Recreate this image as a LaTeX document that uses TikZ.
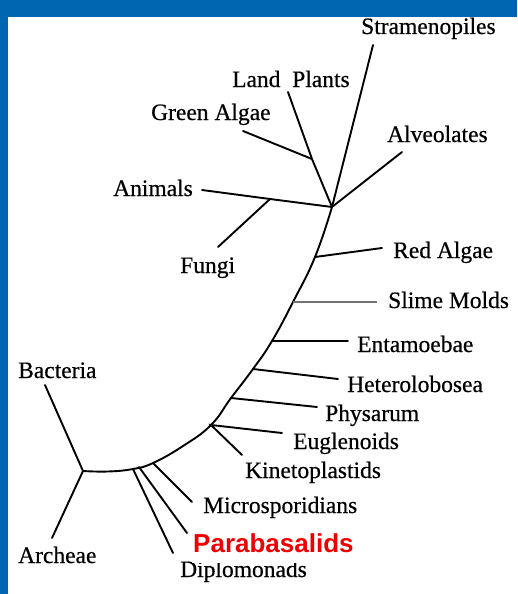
\documentclass[tikz,border=0pt]{standalone}
\usepackage{fontspec}
\setmainfont{Liberation Serif}[FakeBold=0.5]
\newfontfamily\markfont{Liberation Sans}
\definecolor{slideblue}{RGB}{0,102,178}
\definecolor{hilite}{RGB}{240,0,0}
\begin{document}
\begin{tikzpicture}[x=1pt,y=-1pt,
  lab/.style={font=\fontsize{23.5}{26}\selectfont,inner sep=0pt,anchor=base west},
  hilab/.style={font=\markfont\bfseries\fontsize{26}{28}\selectfont,text=hilite,fill=white,inner xsep=1pt,inner ysep=0pt,text depth=11pt,anchor=base west},
  br/.style={line width=1.9pt,line cap=round},
  faint/.style={line width=1.2pt,draw=black!55}]
  \fill[slideblue] (0,0) rectangle (517,594);
  \fill[white] (8,17) rectangle (517,594);
  \useasboundingbox (0,0) rectangle (517,594);
  \coordinate (jRoot) at (83,471);
  \coordinate (jDip) at (133,469);
  \coordinate (jPar) at (139,467);
  \coordinate (jMic) at (153,463);
  \coordinate (jEug) at (211,425);
  \coordinate (jPhy) at (231,398);
  \coordinate (jHet) at (253,369);
  \coordinate (jEnt) at (272,341);
  \coordinate (jSli) at (293,302);
  \coordinate (jRed) at (315,257);
  \coordinate (jTop) at (332,207);
  \coordinate (jGre) at (312,159);
  \coordinate (jFun) at (270,199);
  \coordinate (tBac) at (45,385);
  \coordinate (tArc) at (52,538);
  \coordinate (tDip) at (173,553);
  \coordinate (tPar) at (187,533);
  \coordinate (tMic) at (192,502);
  \coordinate (tKin) at (242,455);
  \coordinate (tEug) at (282,433);
  \coordinate (tPhy) at (317,407);
  \coordinate (tHet) at (338,379);
  \coordinate (tEnt) at (348,341);
  \coordinate (tSli) at (377,302);
  \coordinate (tRed) at (382,248);
  \coordinate (tAlv) at (402,152);
  \coordinate (tStr) at (373,45);
  \coordinate (tLand) at (288,92);
  \coordinate (tGre) at (243,131);
  \coordinate (tAni) at (202,190);
  \coordinate (tFun) at (218,247);
  \node[lab] (stram) at (361,34){Stramenopiles};
  \node[lab] (land) at (232,87){Land\ \ Plants};
  \node[lab] (green) at (151,120){Green Algae};
  \node[lab] (alv) at (387,142){Alveolates};
  \node[lab] (ani) at (113,196){Animals};
  \node[lab] (fungi) at (180,273){Fungi};
  \node[lab] (red) at (393,258){Red Algae};
  \node[lab] (slime) at (388,308){Slime Molds};
  \node[lab] (ent) at (357,352){Entamoebae};
  \node[lab] (het) at (347,392){Heterolobosea};
  \node[lab] (phys) at (325,421){Physarum};
  \node[lab] (eug) at (293,449){Euglenoids};
  \node[lab] (kin) at (245,478){Kinetoplastids};
  \node[lab] (micro) at (203,513){Microsporidians};
  \node[lab] (bact) at (18,378){Bacteria};
  \node[lab] (arch) at (18,563){Archeae};
  \node[lab] (dip) at (180,577){Diplomonads};
  \node[hilab] (para) at (192,552){Parabasalids};
  \draw[br] plot[smooth,tension=0.75] coordinates {(jRoot) (108,471.5) (jDip) (jMic) (183,446) (jEug) (jPhy) (jHet) (jEnt) (jSli) (jRed) (jTop)};
  \draw[br] (tBac) -- (jRoot) -- (tArc);
  \draw[br] (jDip) -- (tDip);
  \draw[br] (jPar) -- (tPar);
  \draw[br] (jMic) -- (tMic);
  \draw[br] (tKin) -- (jEug) -- (tEug);
  \draw[br] (jPhy) -- (tPhy);
  \draw[br] (jHet) -- (tHet);
  \draw[br] (jEnt) -- (tEnt);
  \draw[faint] (jSli) -- (tSli);
  \draw[br] (jRed) -- (tRed);
  \draw[br] (jTop) -- (tAlv);
  \draw[br] (jTop) -- (tStr);
  \draw[br] (jTop) -- (jGre) -- (tLand);
  \draw[br] (jGre) -- (tGre);
  \draw[br] (jTop) -- (jFun) -- (tAni);
  \draw[br] (jFun) -- (tFun);
\end{tikzpicture}
\end{document}
